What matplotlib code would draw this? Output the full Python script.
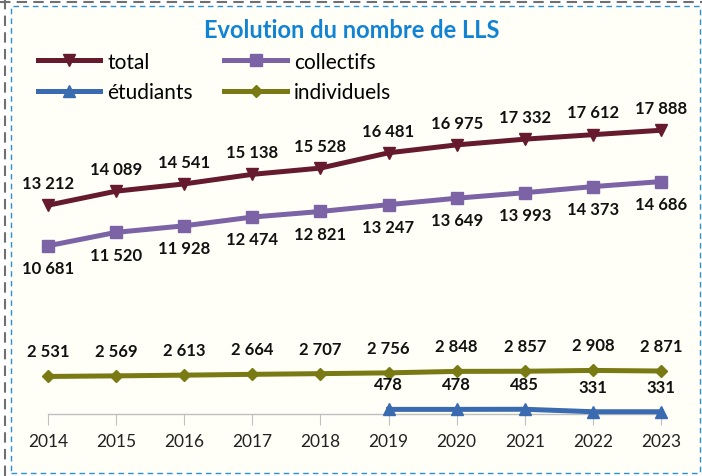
import matplotlib
matplotlib.use("Agg")
import matplotlib.pyplot as plt
from matplotlib.patches import Rectangle
from matplotlib.lines import Line2D

# ====== data ======
years = [2014, 2015, 2016, 2017, 2018, 2019, 2020, 2021, 2022, 2023]
total = [13212, 14089, 14541, 15138, 15528, 16481, 16975, 17332, 17612, 17888]
collectifs = [10681, 11520, 11928, 12474, 12821, 13247, 13649, 13993, 14373, 14686]
etudiants_years = [2019, 2020, 2021, 2022, 2023]
etudiants = [478, 478, 485, 331, 331]
individuels = [2531, 2569, 2613, 2664, 2707, 2756, 2848, 2857, 2908, 2871]

title = "Evolution du nombre de LLS"
c_total = "#661A2E"
c_coll = "#7B63A6"
c_etu = "#3A6BB0"
c_ind = "#7A7A14"
bg = "#FFFFF7"

plt.rcParams['font.family'] = ['Lato', 'DejaVu Sans']


def fmt(v):
    return f"{v:,}".replace(",", " ")


fig = plt.figure(figsize=(7.02, 4.77), dpi=100)
fig.patch.set_facecolor("white")

# chart area background + dashed frames
fig.add_artist(Rectangle((11 / 702, 3 / 477), 689 / 702, 467 / 477,
                         transform=fig.transFigure, facecolor=bg,
                         edgecolor="#2A8FD8", lw=1.0, ls=(0, (4, 3)), zorder=0))
fig.add_artist(Line2D([0, 1], [1 - 3 / 477, 1 - 3 / 477], transform=fig.transFigure,
                      color="#707070", lw=1.5, ls=(0, (5, 3))))
fig.add_artist(Line2D([5 / 702, 5 / 702], [0, 1], transform=fig.transFigure,
                      color="#707070", lw=1.5, ls=(0, (5, 3))))

# plot area: 2014 -> x=48px, 2023 -> x=661px, axis line at y=414px
ax = fig.add_axes([48 / 702, 62 / 477, 613 / 702, 316 / 477])
ax.set_facecolor("none")
ax.set_xlim(2014, 2023)
ax.set_ylim(190, 19900)

lw = 3.6
ax.plot(years, total, color=c_total, lw=lw, marker="v", ms=8.5, label="total",
        zorder=3, clip_on=False)
ax.plot(years, collectifs, color=c_coll, lw=lw, marker="s", ms=8.5, label="collectifs",
        zorder=3, clip_on=False)
ax.plot(etudiants_years, etudiants, color=c_etu, lw=lw, marker="^", ms=8.5, label="étudiants",
        zorder=3, clip_on=False)
ax.plot(years, individuels, color=c_ind, lw=lw, marker="D", ms=6, label="individuels",
        zorder=3, clip_on=False)

lab = dict(ha="center", va="center", fontsize=12, fontweight="bold", color="#111111")
for x, v in zip(years, total):
    ax.annotate(fmt(v), (x, v), xytext=(0, 16), textcoords="offset points", **lab)
for x, v in zip(years, collectifs):
    ax.annotate(fmt(v), (x, v), xytext=(0, -16), textcoords="offset points", **lab)
for x, v in zip(years, individuels):
    ax.annotate(fmt(v), (x, v), xytext=(0, 18), textcoords="offset points", **lab)
for x, v in zip(etudiants_years, etudiants):
    ax.annotate(fmt(v), (x, v), xytext=(0, 18), textcoords="offset points", **lab)

for s in ["top", "right", "left"]:
    ax.spines[s].set_visible(False)
ax.spines["bottom"].set_color("#BFBFBF")
ax.spines["bottom"].set_linewidth(1.0)
ax.set_yticks([])
ax.set_xticks(years)
ax.set_xticklabels([str(y) for y in years], fontsize=12.5, color="#222222")
ax.tick_params(axis="x", length=8, color="#BFBFBF", pad=6)

fig.text(352 / 702, 1 - 30 / 477, title, ha="center", va="center",
         fontsize=17, fontweight="bold", color="#1183D4")

handles, labels = ax.get_legend_handles_labels()
order = [0, 2, 1, 3]
leg = fig.legend([handles[i] for i in order], [labels[i] for i in order],
                 ncol=2, loc="upper left", bbox_to_anchor=(19 / 702, 1 - 34 / 477),
                 frameon=False, fontsize=15, handlelength=3.0, columnspacing=1.5,
                 handletextpad=0.35, labelspacing=0.5)

fig.savefig("out.png", dpi=100, facecolor=fig.get_facecolor())
